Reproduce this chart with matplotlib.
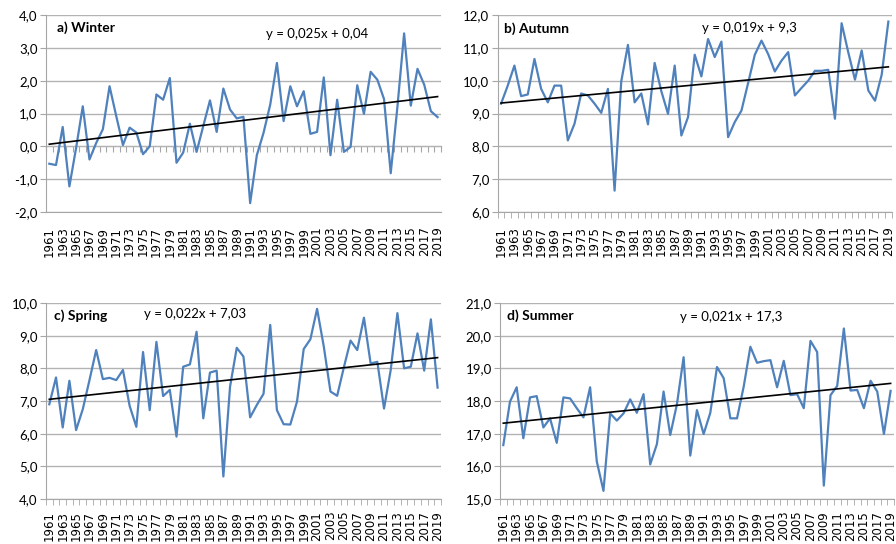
import numpy as np
from matplotlib import pyplot as plt
from matplotlib.ticker import FixedLocator

plt.rcParams['font.family'] = ['Lato', 'DejaVu Sans']

years = np.arange(1961, 2020)

winter = [-0.53, -0.57, 0.59, -1.22, -0.05, 1.22, -0.40, 0.10, 0.52, 1.83,
          0.92, 0.04, 0.57, 0.42, -0.24, 0.00, 1.58, 1.42, 2.08, -0.50,
          -0.19, 0.69, -0.17, 0.62, 1.40, 0.44, 1.76, 1.12, 0.85, 0.90,
          -1.73, -0.27, 0.41, 1.27, 2.54, 0.77, 1.83, 1.22, 1.68, 0.38,
          0.44, 2.10, -0.27, 1.42, -0.17, -0.02, 1.86, 0.99, 2.27, 2.03,
          1.44, -0.82, 1.20, 3.44, 1.24, 2.36, 1.88, 1.07, 0.89]

autumn = [9.30, 9.85, 10.46, 9.53, 9.58, 10.66, 9.75, 9.34, 9.85, 9.85,
          8.18, 8.69, 9.61, 9.55, 9.30, 9.02, 9.75, 6.65, 9.98, 11.09,
          9.34, 9.61, 8.67, 10.54, 9.68, 8.99, 10.46, 8.33, 8.89, 10.79,
          10.13, 11.27, 10.72, 11.19, 8.28, 8.74, 9.09, 9.93, 10.79, 11.22,
          10.81, 10.28, 10.61, 10.87, 9.55, 9.78, 10.00, 10.30, 10.30, 10.33,
          8.84, 11.75, 10.86, 10.03, 10.92, 9.70, 9.39, 10.18, 11.80]

spring = [6.90, 7.72, 6.19, 7.62, 6.11, 6.75, 7.64, 8.56, 7.67, 7.71,
          7.64, 7.95, 6.85, 6.21, 8.50, 6.72, 8.81, 7.15, 7.34, 5.91,
          8.05, 8.12, 9.12, 6.47, 7.87, 7.93, 4.69, 7.44, 8.63, 8.36,
          6.50, 6.88, 7.22, 9.33, 6.72, 6.29, 6.28, 6.98, 8.59, 8.89,
          9.82, 8.67, 7.29, 7.16, 8.03, 8.85, 8.56, 9.55, 8.15, 8.20,
          6.77, 7.95, 9.69, 8.00, 8.05, 9.07, 7.93, 9.50, 7.41]

summer = [16.65, 17.98, 18.42, 16.86, 18.11, 18.15, 17.19, 17.47, 16.72, 18.11,
          18.08, 17.78, 17.50, 18.42, 16.15, 15.25, 17.62, 17.40, 17.62, 18.05,
          17.64, 18.21, 16.06, 16.68, 18.29, 16.96, 17.90, 19.34, 16.33, 17.72,
          16.99, 17.64, 19.04, 18.70, 17.47, 17.47, 18.44, 19.66, 19.17, 19.22,
          19.25, 18.42, 19.23, 18.18, 18.21, 17.78, 19.84, 19.50, 15.41, 18.18,
          18.46, 20.22, 18.32, 18.34, 17.78, 18.62, 18.29, 16.99, 18.31]

titles = ["a) Winter", "b) Autumn", "c) Spring", "d) Summer"]
slopes = [0.025, 0.019, 0.022, 0.021]
intercepts = [0.04, 9.3, 7.03, 17.3]
eq_labels = ["y = 0,025x + 0,04", "y = 0,019x + 9,3",
             "y = 0,022x + 7,03", "y = 0,021x + 17,3"]
y_ranges = [(-2, 4), (6, 12), (4, 10), (15, 21)]

series = [winter, autumn, spring, summer]
rects = [[0.0513, 0.6103, 0.4408, 0.3621],
         [0.5555, 0.6103, 0.4397, 0.3621],
         [0.0513, 0.0827, 0.4408, 0.3603],
         [0.558, 0.0827, 0.4397, 0.3603]]
title_pos = [(0.028, 0.934), (0.016, 0.929), (0.02, 0.934), (0.018, 0.934)]
eq_pos = [(0.557, 0.904), (0.518, 0.934), (0.248, 0.944), (0.456, 0.929)]
label_pad = [10.5, 10.5, 8.5, 8.5]

blue = '#4F81BD'
grid_c = '#B3B3B3'
axis_c = '#A6A6A6'

fig = plt.figure(figsize=(8.96, 5.44), dpi=100)

for k in range(4):
    ax = fig.add_axes(rects[k])
    vals = np.array(series[k])
    x = np.arange(1, len(years) + 1)
    ax.plot(x, vals, color=blue, lw=1.6, zorder=3)
    trend = slopes[k] * x + intercepts[k]
    ax.plot(x, trend, color='black', lw=1.2, zorder=4)

    lo, hi = y_ranges[k]
    ax.set_ylim(lo, hi)
    ax.set_xlim(0.5, len(years) + 0.5)
    ax.set_yticks(np.arange(lo, hi + 1))
    ax.set_yticklabels([f"{v:.1f}".replace('.', ',') for v in np.arange(lo, hi + 1)])
    ax.grid(axis='y', color=grid_c, lw=1.0)
    ax.set_axisbelow(True)

    ax.set_xticks(x[::2])
    ax.set_xticklabels([str(y) for y in years[::2]], rotation=90,
                       family='DejaVu Sans', fontsize=8.5)
    ax.xaxis.set_minor_locator(FixedLocator(np.arange(0.5, len(years) + 1, 1)))

    for s in ['top', 'right']:
        ax.spines[s].set_visible(False)
    ax.spines['left'].set_color(axis_c)
    ax.spines['bottom'].set_color(axis_c)

    ax.tick_params(axis='y', length=4, color=axis_c, labelsize=9.5, pad=2)
    ax.tick_params(axis='x', which='major', length=0, pad=label_pad[k])
    ax.tick_params(axis='x', which='minor', length=4, color=axis_c)

    if lo < 0:
        # category axis crosses at zero in the winter panel
        ax.tick_params(axis='x', which='minor', length=0)
        sec = ax.secondary_xaxis((0 - lo) / (hi - lo))
        sec.set_xticks(np.arange(0.5, len(years) + 1, 1))
        sec.tick_params(length=4, color=axis_c, labelbottom=False, labeltop=False)
        sec.spines['bottom'].set_color(axis_c)
        sec.spines['top'].set_color(axis_c)

    ax.text(title_pos[k][0], title_pos[k][1], titles[k], transform=ax.transAxes,
            fontsize=10, fontweight='bold', va='center', ha='left')
    ax.text(eq_pos[k][0], eq_pos[k][1], eq_labels[k], transform=ax.transAxes,
            fontsize=9.5, va='center', ha='left')

fig.savefig("out.png", dpi=100)
